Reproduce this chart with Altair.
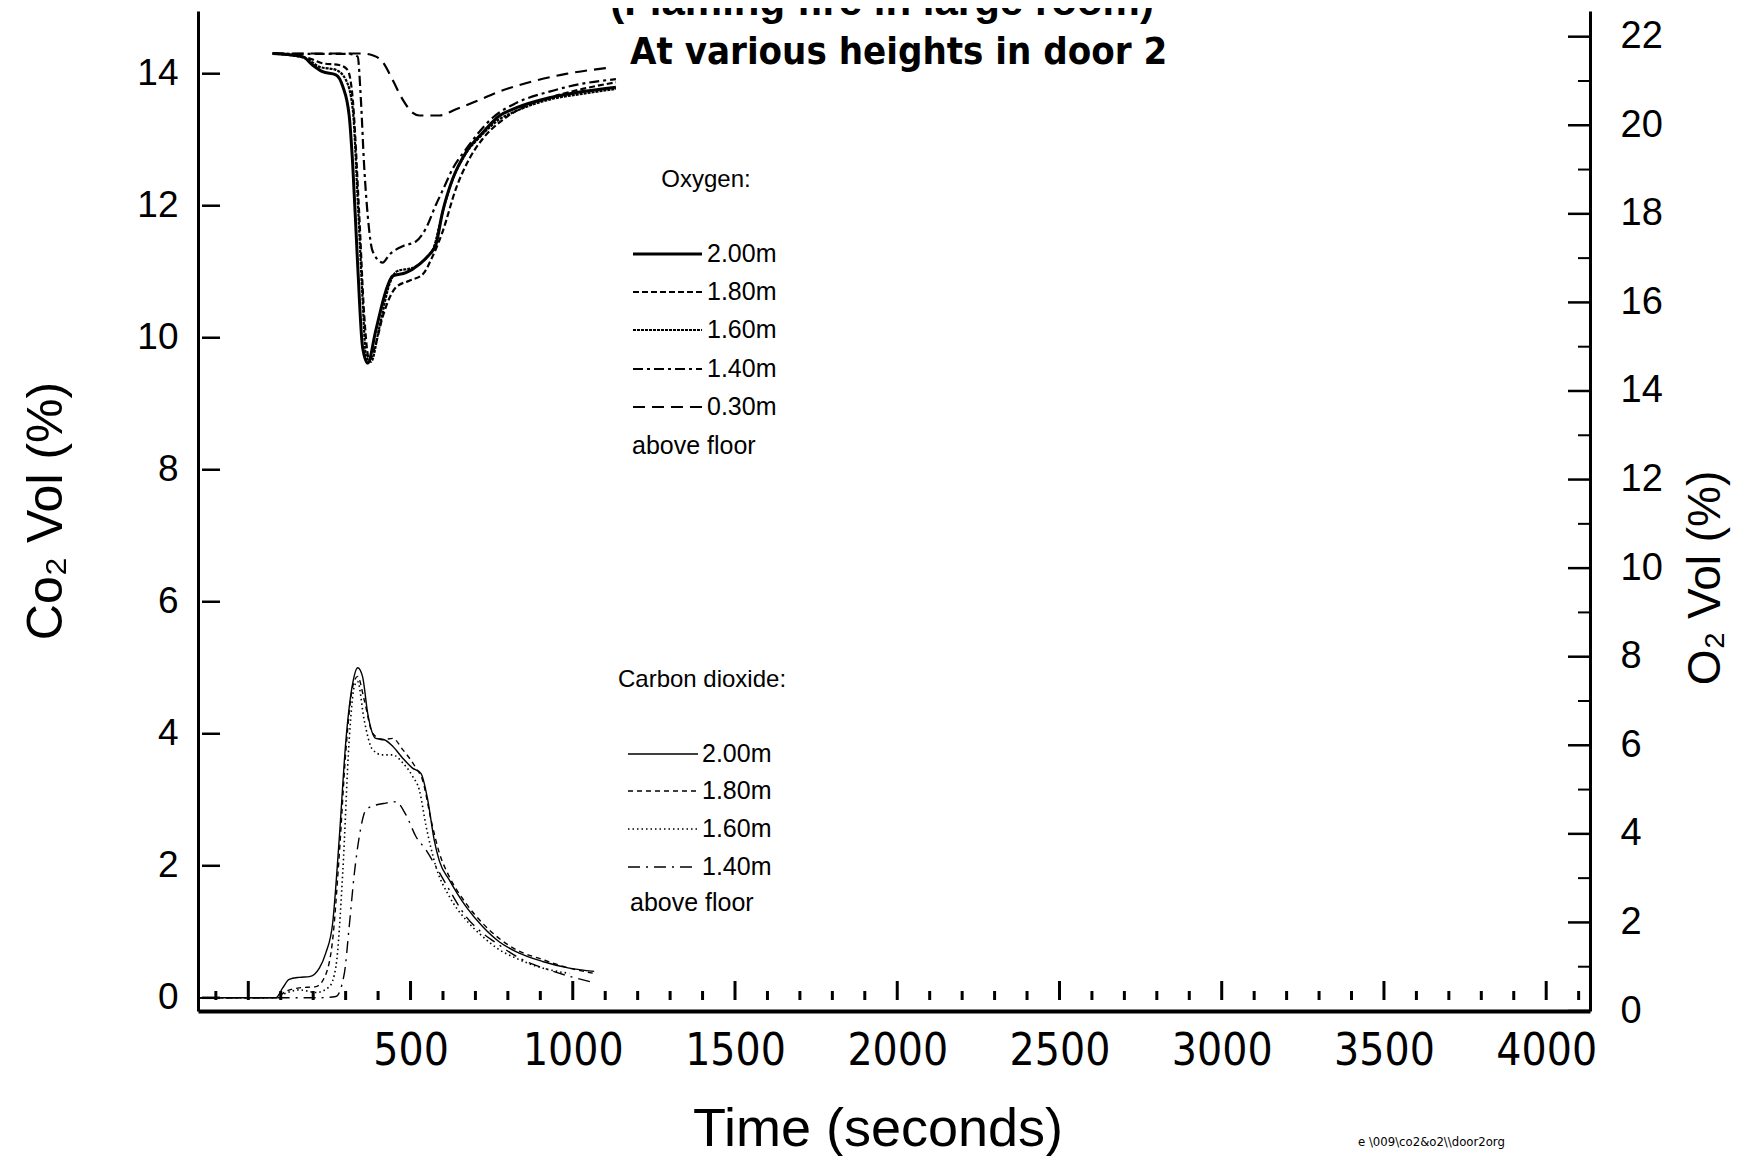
import altair as alt
import pandas as pd

# ---------------- data ----------------
# Oxygen, % by volume (right axis), time in seconds
o2_t_200 = [75, 167, 198, 229, 270, 291, 311, 322, 337, 352, 368, 393, 424, 445, 486, 527, 558, 578, 599, 630, 671, 722, 773, 825, 928, 1030, 1133]
o2_v_200 = [21.62, 21.55, 21.36, 21.21, 21.14, 20.88, 20.21, 19.09, 16.86, 15.00, 14.63, 15.37, 16.26, 16.60, 16.67, 16.86, 17.08, 17.30, 18.05, 18.79, 19.39, 19.83, 20.21, 20.39, 20.62, 20.76, 20.86]

o2_t_180 = [75, 188, 229, 280, 306, 322, 342, 357, 373, 393, 414, 455, 496, 537, 568, 599, 640, 681, 722, 773, 825, 928, 1030, 1133]
o2_v_180 = [21.62, 21.51, 21.40, 21.36, 21.25, 20.58, 17.97, 15.74, 14.70, 15.07, 15.67, 16.34, 16.49, 16.63, 17.04, 17.60, 18.57, 19.24, 19.69, 20.06, 20.32, 20.62, 20.82, 20.97]

o2_t_160 = [75, 177, 219, 270, 301, 322, 337, 352, 363, 378, 404, 435, 460, 507, 548, 573, 594, 625, 666, 717, 773, 825, 928, 1030, 1133]
o2_v_160 = [21.62, 21.51, 21.32, 21.25, 21.02, 20.36, 18.35, 16.11, 14.78, 14.66, 15.44, 16.41, 16.71, 16.78, 17.01, 17.27, 17.90, 18.68, 19.31, 19.76, 20.13, 20.32, 20.58, 20.71, 20.82]

o2_t_140 = [75, 209, 311, 337, 347, 357, 368, 383, 414, 435, 476, 517, 548, 578, 599, 630, 671, 753, 825, 928, 1030, 1133]
o2_v_140 = [21.62, 21.61, 21.61, 21.55, 20.58, 19.09, 17.97, 17.16, 16.90, 17.08, 17.27, 17.38, 17.68, 18.20, 18.53, 19.02, 19.46, 20.17, 20.50, 20.76, 20.94, 21.04]

o2_t_030 = [75, 311, 352, 383, 414, 445, 476, 507, 527, 589, 640, 702, 773, 876, 979, 1102]
o2_v_030 = [21.62, 21.62, 21.62, 21.58, 21.43, 21.02, 20.58, 20.28, 20.22, 20.22, 20.36, 20.54, 20.76, 20.99, 21.16, 21.29]

# Carbon dioxide, % by volume (left axis)
co2_t_200 = [-150, 85, 106, 126, 157, 188, 219, 239, 260, 280, 301, 322, 337, 352, 368, 393, 419, 445, 476, 506, 532, 553, 573, 589, 619, 671, 722, 773, 825, 907, 989, 1066]
co2_v_200 = [0.0, 0.0, 0.15, 0.28, 0.31, 0.32, 0.45, 0.68, 1.13, 2.39, 3.91, 4.77, 5.00, 4.87, 4.31, 3.93, 3.91, 3.81, 3.63, 3.48, 3.40, 3.00, 2.39, 2.07, 1.79, 1.38, 1.08, 0.85, 0.70, 0.55, 0.45, 0.40]

co2_t_180 = [-150, 85, 116, 157, 209, 240, 260, 280, 301, 322, 337, 357, 383, 414, 445, 476, 517, 537, 563, 589, 619, 671, 722, 773, 825, 907, 989, 1066]
co2_v_180 = [0.0, 0.0, 0.10, 0.15, 0.17, 0.37, 0.88, 2.14, 3.76, 4.72, 4.87, 4.52, 4.01, 3.91, 3.93, 3.76, 3.48, 3.30, 2.70, 2.19, 1.84, 1.43, 1.13, 0.90, 0.73, 0.58, 0.45, 0.37]

co2_t_160 = [-150, 85, 116, 157, 209, 250, 270, 291, 311, 327, 337, 357, 383, 414, 445, 476, 507, 527, 548, 578, 619, 671, 722, 773, 825, 907, 989]
co2_v_160 = [0.0, 0.0, 0.07, 0.12, 0.08, 0.17, 0.47, 1.89, 3.91, 4.72, 4.79, 4.21, 3.76, 3.68, 3.68, 3.56, 3.35, 3.15, 2.60, 1.99, 1.54, 1.18, 0.93, 0.73, 0.60, 0.45, 0.37]

co2_t_140 = [-150, 209, 270, 296, 311, 327, 342, 363, 393, 424, 455, 486, 517, 548, 578, 619, 671, 722, 773, 825, 928, 1066]
co2_v_140 = [0.0, 0.0, 0.02, 0.37, 1.08, 1.89, 2.44, 2.85, 2.92, 2.95, 2.97, 2.77, 2.44, 2.24, 1.99, 1.64, 1.23, 0.98, 0.80, 0.63, 0.42, 0.23]

o2_heights = ["2.00m", "1.80m", "1.60m", "1.40m", "0.30m"]
co2_heights = ["2.00m", "1.80m", "1.60m", "1.40m"]

x_label_values = [500, 1000, 1500, 2000, 2500, 3000, 3500, 4000]
x_tick_values = list(range(-100, 4200, 100))
co2_tick_values = [0, 2, 4, 6, 8, 10, 12, 14]
o2_tick_values = list(range(0, 23, 2))
o2_minor_values = list(range(1, 23, 2))

title_text = "(Flaming fire in large room)"
subtitle_text = "At various heights in door 2"

# ---------------- styles ----------------
W, H = 1392, 1000
FONT = "Liberation Sans"
NARROW = "Liberation Sans Narrow, DejaVu Sans Condensed, Liberation Sans"

o2_styles = {
    "2.00m": dict(strokeWidth=3.0),
    "1.80m": dict(strokeWidth=2.2, strokeDash=[6, 3]),
    "1.60m": dict(strokeWidth=2.2, strokeDash=[3, 1]),
    "1.40m": dict(strokeWidth=2.2, strokeDash=[10, 4, 3, 4]),
    "0.30m": dict(strokeWidth=2.2, strokeDash=[12, 7]),
}
co2_styles = {
    "2.00m": dict(strokeWidth=1.4),
    "1.80m": dict(strokeWidth=1.4, strokeDash=[5, 4]),
    "1.60m": dict(strokeWidth=1.6, strokeDash=[1.5, 3]),
    "1.40m": dict(strokeWidth=1.4, strokeDash=[12, 6, 2, 6]),
}

x_enc = alt.X(
    "t:Q",
    scale=alt.Scale(domain=[-155, 4135], nice=False, zero=False),
    axis=alt.Axis(values=x_label_values, format="d", title=None, grid=False, ticks=False, tickSize=0,
                  labelFontSize=44, labelFont=NARROW, labelPadding=18, labelColor="black",
                  domainColor="black", domainWidth=4, labelFlush=False),
)
y_co2 = alt.Y(
    "v:Q",
    scale=alt.Scale(domain=[-0.2, 14.95], nice=False, zero=False),
    axis=alt.Axis(orient="left", values=co2_tick_values, format="d", title=None, grid=False, ticks=False, tickSize=0,
                  labelFontSize=37, labelFont=FONT, labelPadding=20, labelColor="black",
                  domainColor="black", domainWidth=3),
)
y_o2 = alt.Y(
    "v:Q",
    scale=alt.Scale(domain=[0, 22.58], nice=False, zero=False),
    axis=alt.Axis(orient="right", values=o2_tick_values, format="d", title=None, grid=False, ticks=False, tickSize=0,
                  labelFontSize=38, labelFont=FONT, labelPadding=30, labelColor="black",
                  domainColor="black", domainWidth=3),
)


def line(t, v, style, y_enc):
    df = pd.DataFrame({"t": t, "v": v})
    return alt.Chart(df).mark_line(color="black", interpolate="monotone", **style).encode(x=x_enc, y=y_enc)


def text(s, x, y, size, weight="normal", align="left", baseline="middle", font=FONT, angle=0):
    df = pd.DataFrame({"txt": [s]})
    return alt.Chart(df).mark_text(align=align, baseline=baseline, fontSize=size, fontWeight=weight,
                                   font=font, angle=angle, color="black").encode(
        x=alt.value(x), y=alt.value(y), text="txt:N")


def sample(x1, x2, y, style):
    df = pd.DataFrame({"k": [0]})
    return alt.Chart(df).mark_rule(color="black", **style).encode(
        x=alt.value(x1), x2=alt.value(x2), y=alt.value(y))


# ---------------- CO2 group (left axis) ----------------
co2_lines = [
    line(co2_t_200, co2_v_200, co2_styles["2.00m"], y_co2),
    line(co2_t_180, co2_v_180, co2_styles["1.80m"], y_co2),
    line(co2_t_160, co2_v_160, co2_styles["1.60m"], y_co2),
    line(co2_t_140, co2_v_140, co2_styles["1.40m"], y_co2),
]
co2_ticks = alt.Chart(pd.DataFrame({"v": co2_tick_values})).mark_rule(color="black", strokeWidth=2.5).encode(
    y=y_co2, x=alt.value(4), x2=alt.value(22))
co2_group = alt.layer(*co2_lines, co2_ticks)

# ---------------- O2 group (right axis) ----------------
o2_lines = [
    line(o2_t_030, o2_v_030, o2_styles["0.30m"], y_o2),
    line(o2_t_140, o2_v_140, o2_styles["1.40m"], y_o2),
    line(o2_t_180, o2_v_180, o2_styles["1.80m"], y_o2),
    line(o2_t_160, o2_v_160, o2_styles["1.60m"], y_o2),
    line(o2_t_200, o2_v_200, o2_styles["2.00m"], y_o2),
]
o2_major = alt.Chart(pd.DataFrame({"v": o2_tick_values})).mark_rule(color="black", strokeWidth=2.5).encode(
    y=y_o2, x=alt.value(W - 22), x2=alt.value(W))
o2_minor = alt.Chart(pd.DataFrame({"v": o2_minor_values})).mark_rule(color="black", strokeWidth=2).encode(
    y=y_o2, x=alt.value(W - 12), x2=alt.value(W))
o2_group = alt.layer(*o2_lines, o2_major, o2_minor)

# ---------------- x ticks (inside, above the baseline) ----------------
xt_df = pd.DataFrame({"t": x_tick_values})
xt_df["major"] = xt_df["t"] % 500 == 0
x_minor = alt.Chart(xt_df[~xt_df["major"]]).mark_rule(color="black", strokeWidth=3).encode(
    x=x_enc, y=alt.value(989), y2=alt.value(980))
x_major = alt.Chart(xt_df[xt_df["major"]]).mark_rule(color="black", strokeWidth=3).encode(
    x=x_enc, y=alt.value(989), y2=alt.value(970))

# ---------------- texts & legends ----------------
texts = [
    text(title_text, 684, 4, 42, weight="bold", align="center", baseline="alphabetic"),
    text(subtitle_text, 432, 53, 38, weight="bold", baseline="alphabetic", font=NARROW),
    text("Co\u2082 Vol (%)", -151, 500, 50, align="center", angle=270),
    text("O\u2082 Vol (%)", 1508, 567, 46, align="center", angle=270),
    text("Time (seconds)", 680, 1119, 54, align="center"),
    text("e   \\009\\co2&o2\\\\door2org", 1160, 1131, 13, font=NARROW),
    text("Oxygen:", 508, 169, 24, align="center"),
    text("above floor", 434, 435, 25),
    text("Carbon dioxide:", 504, 669, 24, align="center"),
    text("above floor", 432, 892, 25),
]
o2_rows = [243, 281, 319, 358, 396]
co2_rows = [743, 780, 818, 856]
legend_parts = []
for h, yy in zip(o2_heights, o2_rows):
    legend_parts.append(sample(435, 504, yy, o2_styles[h]))
    legend_parts.append(text(h, 509, yy, 25))
for h, yy in zip(co2_heights, co2_rows):
    legend_parts.append(sample(430, 500, yy, co2_styles[h]))
    legend_parts.append(text(h, 504, yy, 25))

chart = alt.layer(
    co2_group, o2_group, x_minor, x_major, *texts, *legend_parts
).resolve_scale(
    y="independent"
).properties(
    width=W, height=H,
    padding={"left": 190, "top": 3, "right": 144, "bottom": 145},
    autosize=alt.AutoSizeParams(type="none"),
    background="white",
).configure_view(
    stroke=None
)

chart.save("out.html", embed_options={"renderer": "svg", "actions": False})
